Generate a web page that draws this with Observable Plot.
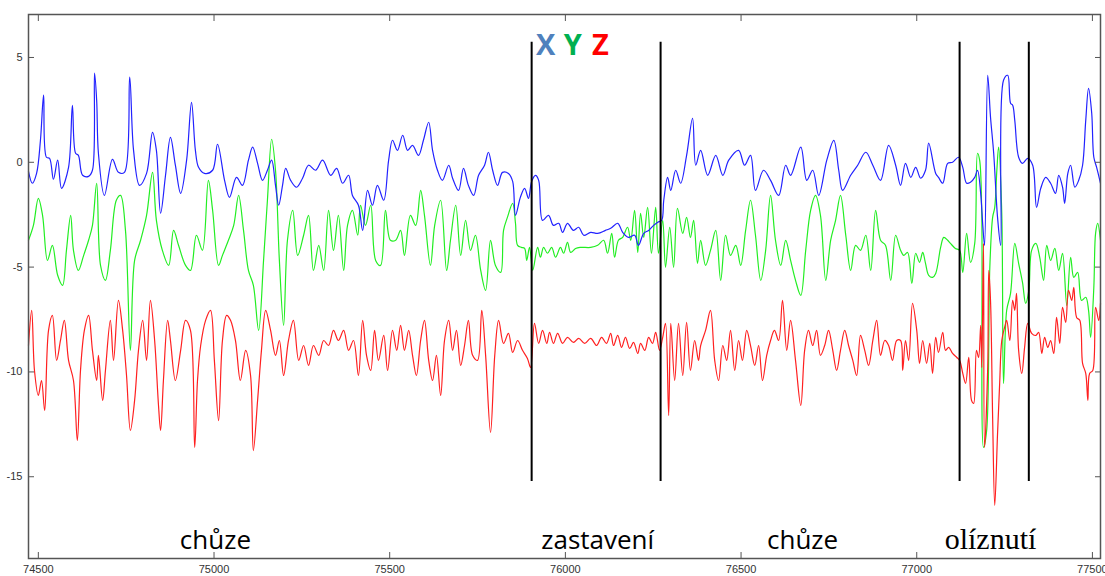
<!DOCTYPE html>
<html>
<head>
<meta charset="utf-8">
<script src="https://cdn.jsdelivr.net/npm/d3@7"></script>
<script src="https://cdn.jsdelivr.net/npm/@observablehq/plot@0.6"></script>
<style>
  html, body { margin: 0; padding: 0; background: #fff; }
  #chart { width: 1105px; height: 576px; }
  .serif-label { font-family: "Liberation Serif", "Times New Roman", serif !important; }
</style>
</head>
<body>
<div id="chart"></div>
<script>
// ---- data ----
const xTicks = [74500, 75000, 75500, 76000, 76500, 77000, 77500];
const yTicks = [5, 0, -5, -10, -15];

// X axis signal (blue)
const xSigT = [74472,74483,74495,74506,74515,74523,74532,74543,74555,74566,74586,74597,74606,74614,74626,74643,74654,74660,74666,74671,74688,74711,74728,74745,74760,74771,74788,74808,74825,74836,74848,74862,74876,74890,74905,74922,74936,74947,74956,74973,74996,75010,75030,75044,75064,75081,75098,75110,75124,75138,75152,75164,75175,75184,75195,75204,75218,75235,75252,75269,75289,75309,75332,75349,75366,75383,75394,75411,75423,75437,75451,75465,75483,75497,75508,75522,75537,75551,75565,75582,75596,75611,75622,75636,75650,75668,75679,75696,75710,75724,75739,75753,75770,75781,75793,75807,75821,75838,75850,75858,75872,75884,75895,75904,75915,75924,75935,75952,75966,75981,75992,76006,76023,76038,76052,76072,76092,76114,76129,76149,76163,76180,76197,76208,76223,76237,76251,76263,76274,76280,76291,76300,76314,76328,76345,76362,76371,76385,76405,76428,76448,76465,76493,76510,76527,76541,76564,76584,76607,76627,76641,76670,76687,76704,76721,76744,76764,76778,76789,76812,76832,76855,76875,76897,76920,76940,76954,76968,76983,76997,77011,77025,77034,77054,77062,77074,77088,77102,77119,77131,77142,77153,77165,77173,77182,77188,77193,77202,77210,77219,77230,77239,77247,77259,77267,77273,77279,77290,77301,77316,77330,77341,77353,77367,77381,77395,77404,77415,77421,77430,77438,77450,77461,77472,77481,77489,77498,77504,77512,77523];
const xSigV = [-0.43,-1.00,-0.53,1.05,3.20,0.24,0.19,-0.81,0.10,-1.24,-0.24,2.72,0.43,0.33,-0.62,-0.67,-0.38,4.25,2.96,0.43,-1.58,0.14,-0.48,-0.48,4.06,0.57,-1.10,-0.53,1.43,0.57,-2.43,-0.62,1.19,-0.14,-1.48,0.10,2.86,0.57,-0.24,-0.53,-0.38,0.86,-0.86,-1.67,-0.72,-1.10,0.10,0.72,-0.05,-0.86,-0.38,0.10,-1.10,-2.05,-1.10,-0.29,-0.86,-1.19,-0.76,-0.14,-0.38,0.10,-0.62,-0.29,-1.00,-0.62,-1.58,-2.05,-3.25,-1.34,-2.05,-1.10,-1.81,0.10,1.05,0.57,1.29,0.57,0.81,0.33,1.05,1.91,0.57,-0.38,-0.86,-0.14,-0.76,-1.34,-0.29,-1.10,-1.58,-0.62,-0.14,0.48,-0.38,-1.10,-0.48,-0.53,-0.91,-2.53,-1.67,-1.24,-1.72,-0.91,-0.62,-0.86,-2.77,-2.53,-3.01,-2.91,-3.34,-2.91,-3.25,-3.10,-3.48,-3.34,-3.39,-3.25,-3.15,-2.91,-3.34,-3.58,-3.48,-3.96,-3.39,-3.25,-3.01,-2.86,-2.77,-1.81,-0.72,-1.34,-0.38,-1.00,0.33,2.10,-0.14,0.57,-0.62,0.33,-0.62,0.10,0.57,-0.14,0.33,-1.34,-0.38,-0.86,-1.58,-0.14,-0.62,0.72,-0.86,-0.38,-1.58,0.10,1.05,-0.38,-1.34,-0.62,-0.14,0.48,-0.14,-0.86,0.81,-0.14,-1.10,-0.05,-0.72,-0.24,-0.76,-0.38,0.91,-0.53,-0.72,-1.00,-0.05,0.00,0.24,-0.24,-1.00,-0.95,-0.72,-0.38,-1.48,-3.01,-3.96,4.15,2.15,0.43,-2.63,-3.96,3.91,4.15,2.82,2.72,2.00,0.24,-0.05,0.19,-0.14,-2.15,-1.24,-0.72,-1.00,-1.48,-0.62,-1.19,-1.96,-0.53,-0.14,-1.19,-0.86,-0.14,2.00,3.53,2.34,0.24,-0.24,-1.00];

// Y axis signal (green)
const ySigT = [74472,74486,74500,74512,74526,74540,74555,74569,74580,74592,74600,74614,74629,74643,74654,74666,74677,74691,74705,74722,74734,74748,74762,74774,74791,74808,74825,74836,74853,74871,74885,74899,74919,74933,74950,74967,74984,74996,75013,75024,75041,75056,75070,75084,75098,75112,75127,75141,75152,75164,75175,75186,75198,75209,75224,75238,75255,75269,75283,75298,75312,75326,75340,75354,75369,75380,75394,75409,75417,75431,75446,75460,75474,75488,75502,75517,75531,75542,75559,75574,75588,75599,75616,75628,75645,75662,75673,75688,75702,75716,75730,75744,75759,75773,75787,75801,75816,75824,75835,75850,75858,75864,75875,75884,75890,75898,75907,75921,75929,75938,75949,75961,75972,75986,75995,76006,76015,76029,76043,76072,76092,76109,76120,76132,76140,76151,76163,76177,76186,76197,76206,76214,76223,76234,76245,76257,76265,76277,76285,76297,76308,76319,76334,76345,76356,76365,76376,76385,76399,76413,76428,76442,76456,76470,76485,76499,76513,76527,76541,76556,76570,76584,76598,76613,76627,76641,76655,76670,76684,76698,76712,76726,76741,76755,76769,76783,76798,76812,76826,76840,76855,76869,76883,76897,76911,76926,76940,76954,76963,76974,76986,76997,77008,77017,77025,77034,77045,77054,77068,77077,77088,77096,77110,77122,77131,77142,77153,77165,77173,77179,77185,77190,77199,77208,77216,77222,77228,77233,77242,77247,77256,77267,77279,77290,77301,77310,77319,77327,77339,77350,77361,77370,77381,77393,77404,77415,77427,77438,77447,77458,77469,77481,77489,77495,77504,77509,77515,77523];
const ySigV = [-3.72,-3.01,-1.72,-2.53,-4.68,-3.96,-5.39,-5.87,-4.20,-2.53,-4.20,-5.16,-4.44,-3.72,-3.01,-1.00,-4.92,-5.63,-4.20,-1.81,-1.58,-3.25,-8.97,-4.68,-3.72,-2.53,-0.48,-2.77,-4.20,-4.92,-3.25,-3.96,-4.92,-5.16,-3.48,-4.20,-0.86,-2.29,-4.92,-4.44,-3.72,-3.01,-1.58,-3.25,-5.16,-5.87,-8.02,-4.68,-1.81,1.10,-0.38,-4.68,-7.78,-3.72,-2.29,-4.44,-3.48,-2.53,-5.16,-3.96,-5.16,-2.29,-4.20,-2.53,-5.16,-3.01,-2.29,-3.48,-2.05,-3.01,-2.05,-4.68,-4.92,-2.29,-3.72,-3.72,-3.25,-4.44,-2.53,-3.01,-1.34,-2.53,-4.92,-3.01,-1.81,-5.16,-3.72,-2.05,-4.44,-2.77,-4.20,-3.48,-5.16,-6.11,-3.72,-4.92,-5.25,-3.25,-2.63,-1.96,-2.91,-3.96,-4.06,-4.11,-4.68,-4.06,-5.16,-4.06,-4.53,-4.06,-4.34,-4.06,-4.53,-4.06,-4.34,-3.82,-4.30,-4.11,-4.06,-4.06,-3.96,-3.72,-4.34,-3.39,-4.53,-3.72,-3.58,-3.10,-3.72,-2.29,-4.30,-2.43,-3.58,-2.15,-4.34,-2.15,-4.34,-2.77,-5.01,-3.10,-5.01,-2.20,-3.39,-2.63,-3.58,-2.77,-4.82,-3.72,-4.92,-4.20,-3.25,-5.63,-3.48,-4.44,-3.96,-4.92,-3.25,-1.81,-3.48,-5.63,-4.20,-1.58,-3.72,-4.92,-3.72,-4.68,-5.63,-6.35,-4.20,-2.29,-1.58,-2.53,-5.63,-3.72,-2.77,-1.58,-3.48,-5.16,-3.96,-4.20,-3.48,-5.16,-2.29,-3.72,-3.96,-5.63,-3.48,-4.20,-4.44,-4.30,-5.78,-4.34,-4.77,-4.30,-4.82,-5.39,-5.49,-5.30,-4.06,-3.58,-3.72,-3.87,-4.11,-4.20,-5.25,-3.39,-4.77,-3.87,0.43,0.10,-2.43,-13.60,-12.79,-5.01,-2.63,-2.15,-0.38,0.72,-2.43,-10.55,-7.06,-6.25,-3.87,-4.82,-5.73,-6.73,-6.11,-4.20,-3.87,-4.53,-5.63,-3.96,-4.68,-4.11,-5.16,-4.34,-6.83,-4.53,-5.49,-5.25,-6.59,-6.44,-7.06,-8.35,-5.97,-3.39,-2.91,-3.72];

// Z axis signal (red)
const zSigT = [74472,74481,74489,74500,74509,74518,74529,74540,74552,74563,74574,74586,74600,74611,74620,74631,74643,74654,74666,74671,74683,74691,74705,74714,74728,74740,74751,74762,74774,74785,74797,74808,74819,74831,74842,74848,74856,74868,74876,74890,74905,74919,74933,74945,74953,74962,74976,74990,75001,75013,75024,75036,75047,75061,75075,75090,75104,75112,75124,75135,75147,75161,75175,75186,75198,75212,75226,75241,75255,75269,75283,75298,75312,75326,75340,75354,75369,75383,75397,75411,75423,75434,75446,75457,75468,75483,75494,75508,75520,75531,75542,75554,75565,75576,75588,75599,75611,75622,75633,75645,75656,75668,75679,75690,75702,75713,75724,75736,75750,75762,75773,75787,75799,75810,75824,75838,75850,75864,75878,75892,75901,75912,75924,75935,75947,75955,75966,75978,75992,76006,76023,76038,76055,76072,76089,76103,76117,76129,76137,76149,76160,76171,76183,76194,76206,76214,76226,76237,76248,76257,76268,76277,76285,76294,76300,76311,76322,76334,76345,76356,76368,76379,76385,76399,76413,76425,76436,76448,76459,76470,76482,76493,76504,76516,76527,76539,76550,76561,76573,76584,76595,76607,76618,76630,76641,76655,76670,76681,76692,76704,76715,76726,76738,76749,76761,76772,76783,76795,76806,76818,76829,76840,76852,76863,76875,76886,76897,76909,76920,76931,76943,76954,76960,76968,76977,76988,77000,77008,77017,77028,77037,77045,77054,77062,77074,77082,77091,77102,77114,77122,77131,77139,77148,77156,77162,77170,77176,77182,77185,77190,77193,77202,77205,77210,77216,77222,77230,77236,77242,77250,77256,77265,77273,77279,77284,77290,77299,77307,77316,77327,77339,77347,77356,77364,77373,77381,77390,77398,77407,77415,77424,77432,77441,77447,77455,77464,77472,77481,77487,77492,77501,77509,77518,77523];
const zSigV = [-8.74,-7.06,-9.93,-11.12,-10.41,-11.84,-8.02,-7.30,-9.45,-8.50,-7.54,-9.45,-10.41,-13.27,-9.93,-8.02,-7.30,-8.97,-10.41,-9.21,-11.36,-9.93,-7.54,-9.45,-6.59,-8.02,-10.17,-12.79,-11.36,-8.97,-7.54,-9.45,-6.59,-8.50,-11.60,-12.79,-10.41,-7.54,-8.50,-10.41,-8.97,-7.54,-8.02,-13.60,-10.41,-8.74,-7.54,-7.06,-9.45,-12.32,-8.50,-7.30,-7.54,-8.50,-10.41,-8.97,-10.17,-13.75,-11.36,-8.97,-7.06,-8.02,-9.21,-8.50,-10.17,-8.50,-7.54,-9.45,-8.74,-9.69,-8.74,-9.21,-8.50,-8.74,-8.02,-8.50,-8.02,-8.97,-8.50,-10.17,-7.54,-9.21,-9.93,-8.02,-9.45,-8.26,-9.93,-8.02,-8.97,-7.78,-8.97,-8.02,-9.21,-10.17,-8.50,-7.54,-9.45,-10.41,-9.21,-11.12,-8.50,-7.54,-8.97,-8.02,-9.69,-8.74,-7.54,-9.21,-9.45,-7.06,-9.21,-12.89,-9.21,-7.54,-8.64,-8.16,-9.07,-8.50,-8.97,-9.36,-9.79,-7.68,-8.64,-8.02,-8.64,-8.11,-8.64,-8.16,-8.64,-8.35,-8.59,-8.40,-8.64,-8.40,-8.74,-8.35,-8.64,-8.16,-8.74,-8.26,-8.83,-8.35,-8.88,-8.59,-9.12,-8.64,-8.97,-8.35,-8.64,-8.11,-8.97,-8.35,-7.68,-12.08,-7.68,-10.41,-7.68,-10.17,-7.64,-9.93,-8.50,-9.45,-8.74,-8.02,-7.06,-9.45,-10.41,-8.74,-9.45,-8.02,-9.93,-8.50,-9.45,-8.02,-8.74,-9.69,-8.74,-10.41,-9.21,-8.50,-8.02,-8.50,-6.59,-8.97,-7.54,-9.45,-11.60,-8.97,-8.02,-8.74,-8.02,-9.21,-8.74,-8.02,-8.97,-9.93,-8.97,-8.02,-8.74,-9.45,-10.17,-8.26,-8.97,-9.69,-8.50,-7.54,-9.21,-8.50,-8.74,-9.45,-8.50,-8.50,-9.93,-8.50,-9.45,-6.73,-8.02,-9.59,-8.50,-9.59,-8.64,-10.07,-8.35,-9.07,-8.11,-8.97,-8.83,-9.12,-9.31,-9.45,-10.07,-10.55,-9.31,-11.36,-11.50,-8.97,-9.31,-7.78,-9.79,-3.87,-13.60,-9.79,-5.16,-6.59,-12.17,-16.37,-12.94,-10.55,-8.50,-7.88,-7.54,-8.50,-6.59,-7.06,-6.25,-8.97,-10.07,-8.83,-7.68,-8.16,-8.26,-8.11,-9.12,-8.35,-8.83,-8.50,-9.12,-7.40,-8.64,-6.92,-7.64,-6.11,-6.59,-5.97,-7.40,-7.54,-9.59,-10.07,-11.36,-10.07,-9.93,-6.92,-7.54,-6.73];

// annotations
const sepX = [75904, 76271, 77122, 77319];
const sepTop = 5.73;
const sepBottom = -15.23;
const phaseLabels = ["chůze", "zastavení", "chůze"];
const phaseX = [75004, 76092, 76675];
const lickLabel = ["olíznutí"];
const lickX = [77210];
const labelY = -18.47;
const axisNames = ["X", "Y", "Z"];
const axisNameX = [75944, 76021, 76100];
const axisNameColors = ["#4f81bd", "#00b050", "#ff0000"];
const axisNameY = 5.1;

// ---- build tables ----
const blue = xSigT.map((t, i) => ({t, v: xSigV[i]}));
const green = ySigT.map((t, i) => ({t, v: ySigV[i]}));
const red = zSigT.map((t, i) => ({t, v: zSigV[i]}));
const seps = sepX.map(x => ({x, y1: sepTop, y2: sepBottom}));
const phases = phaseLabels.map((s, i) => ({s, x: phaseX[i], y: labelY}));
const licks = lickLabel.map((s, i) => ({s, x: lickX[i], y: labelY}));
const names = axisNames.map((s, i) => ({s, x: axisNameX[i], y: axisNameY, c: axisNameColors[i]}));

const fmt = d => String(d);
const curve = "catmull-rom";

const chart = Plot.plot({
  width: 1105,
  height: 576,
  marginLeft: 28,
  marginRight: 5,
  marginTop: 14,
  marginBottom: 18,
  style: {background: "#fff", color: "#333", fontFamily: "'Liberation Sans', Arial, sans-serif"},
  x: {domain: [74472, 77523]},
  y: {domain: [-18.9, 7.05]},
  marks: [
    Plot.line(green, {x: "t", y: "v", stroke: "#22ee22", strokeWidth: 1.2, curve}),
    Plot.line(blue, {x: "t", y: "v", stroke: "#2222ff", strokeWidth: 1.2, curve}),
    Plot.line(red, {x: "t", y: "v", stroke: "#ff2020", strokeWidth: 1.2, curve}),
    Plot.ruleX(seps, {x: "x", y1: "y1", y2: "y2", stroke: "#000", strokeWidth: 2}),
    Plot.frame({stroke: "#555", strokeWidth: 1.5}),
    Plot.axisX(xTicks, {anchor: "bottom", tickSize: -6, tickPadding: 13, tickFormat: fmt, fontSize: 11, label: null, stroke: "#555"}),
    Plot.axisX(xTicks, {anchor: "top", tickSize: -6, tickFormat: () => "", label: null, stroke: "#555"}),
    Plot.axisY(yTicks, {anchor: "left", tickSize: -6, tickPadding: 12, tickFormat: fmt, fontSize: 11, label: null, stroke: "#555"}),
    Plot.axisY(yTicks, {anchor: "right", tickSize: -6, tickFormat: () => "", label: null, stroke: "#555"}),
    Plot.text(phases, {x: "x", y: "y", text: "s", fontSize: 26, fontFamily: "'Open Sans', sans-serif", fill: "#000", textAnchor: "middle", lineAnchor: "bottom"}),
    Plot.text(licks, {x: "x", y: "y", text: "s", fontSize: 30, fontFamily: "'Liberation Serif', serif", fill: "#000", textAnchor: "middle", lineAnchor: "bottom"}),
    Plot.text(names, {x: "x", y: "y", text: "s", fill: "c", fontSize: 29, fontWeight: "bold", fontFamily: "'Open Sans', sans-serif", textAnchor: "middle", lineAnchor: "bottom"})
  ]
});
// force the serif face on the licking label
d3.select(chart).selectAll("text").filter(function () { return this.textContent === "olíznutí"; })
  .classed("serif-label", true)
  .style("font-family", "'Liberation Serif', 'Times New Roman', serif");
document.getElementById("chart").appendChild(chart);
</script>
</body>
</html>
